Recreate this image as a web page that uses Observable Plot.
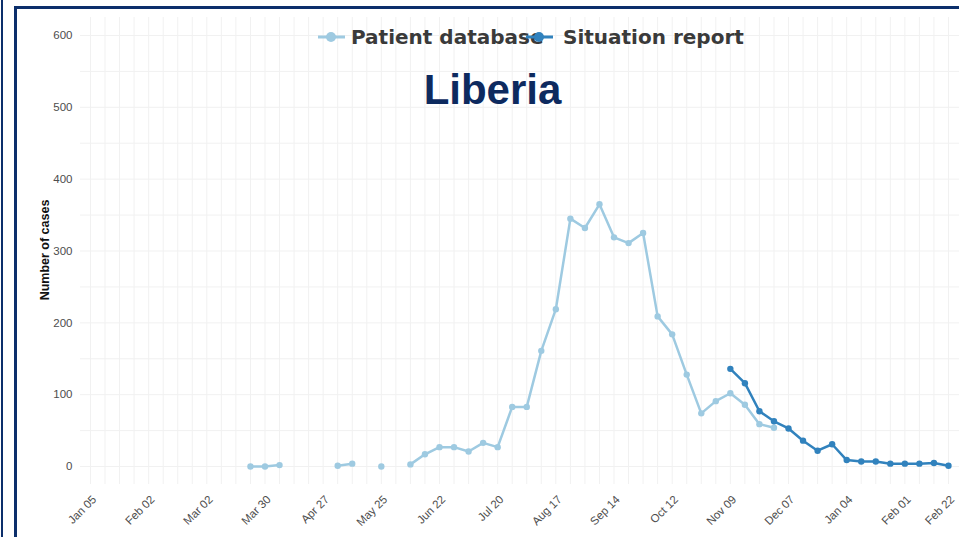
<!DOCTYPE html>
<html>
<head>
<meta charset="utf-8">
<script src="https://cdn.jsdelivr.net/npm/d3@7"></script>
<script src="https://cdn.jsdelivr.net/npm/@observablehq/plot@0.6"></script>
<style>
  html, body { margin: 0; padding: 0; background: #fff; }
  #wrap { position: relative; width: 959px; height: 537px; overflow: hidden; background: #fff; }
  #wrap svg { position: absolute; left: 0; top: 0; }
  .bl { position: absolute; background: #0c2f6b; }
  #title { position: absolute; left: 0; width: 985px; top: 66px; text-align: center;
           font: bold 42px "Liberation Sans", Arial, sans-serif; color: #0d2a5f; line-height: 48px; }
  #ylab { position: absolute; left: 45px; top: 250px; transform: translate(-50%, -50%) rotate(-90deg);
          font: bold 12.5px "Liberation Sans", Arial, sans-serif; color: #111; white-space: nowrap; }
  #legend { position: absolute; left: 316px; top: 22px; height: 30px; }
  .lg { position: absolute; top: 0; font: bold 20px "DejaVu Sans", sans-serif; color: #3a3a3a; white-space: nowrap; line-height: 30px; }
</style>
</head>
<body>
<div id="wrap"></div>
<script>
// Weekly dates (week start) and values
const patientWeeks = ["2014-03-23","2014-03-30","2014-04-06","2014-04-13","2014-04-20","2014-04-27","2014-05-04","2014-05-11","2014-05-18","2014-05-25","2014-06-01","2014-06-08","2014-06-15","2014-06-22","2014-06-29","2014-07-06","2014-07-13","2014-07-20","2014-07-27","2014-08-03","2014-08-10","2014-08-17","2014-08-24","2014-08-31","2014-09-07","2014-09-14","2014-09-21","2014-09-28","2014-10-05","2014-10-12","2014-10-19","2014-10-26","2014-11-02","2014-11-09","2014-11-16","2014-11-23","2014-11-30"];
const patientCases = [0,0,2,null,null,null,1,4,null,0,null,3,17,27,27,21,33,27,83,83,161,219,345,332,365,319,311,325,209,184,128,74,91,102,86,59,54];

const sitrepWeeks = ["2014-11-09","2014-11-16","2014-11-23","2014-11-30","2014-12-07","2014-12-14","2014-12-21","2014-12-28","2015-01-04","2015-01-11","2015-01-18","2015-01-25","2015-02-01","2015-02-08","2015-02-15","2015-02-22"];
const sitrepCases = [136,116,77,63,53,36,22,31,9,7,7,4,4,4,5,1];

const xTickLabels = ["2014-01-05","2014-02-02","2014-03-02","2014-03-30","2014-04-27","2014-05-25","2014-06-22","2014-07-20","2014-08-17","2014-09-14","2014-10-12","2014-11-09","2014-12-07","2015-01-04","2015-02-01","2015-02-22"];
const yTicks = [0,100,200,300,400,500,600];
const seriesNames = ["Patient database","Situation report"];
const seriesColors = ["#9ecae1","#3182bd"];

const parse = d3.utcParse("%Y-%m-%d");
const patient = patientWeeks.map((d,i) => ({date: parse(d), cases: patientCases[i]}));
const sitrep = sitrepWeeks.map((d,i) => ({date: parse(d), cases: sitrepCases[i]}));
const xTicks = xTickLabels.map(parse);

const DAY = 864e5;
const x0 = new Date(parse("2014-01-05").getTime() - 4.8*DAY);
const x1 = new Date(parse("2015-02-22").getTime() + 5.3*DAY);
const weekGrid = d3.utcWeek.range(parse("2014-01-05"), new Date(parse("2015-02-22").getTime() + DAY));

const chart = Plot.plot({
  width: 959, height: 537,
  marginLeft: 80, marginRight: 0, marginTop: 17, marginBottom: 53,
  style: {fontFamily: "'Liberation Sans', Arial, sans-serif", background: "transparent"},
  x: {type: "utc", domain: [x0, x1]},
  y: {domain: [-25, 625]},
  marks: [
    Plot.ruleX(weekGrid, {stroke: "#f1f1f1", strokeWidth: 1}),
    Plot.ruleY(d3.range(-0, 651, 50), {stroke: "#f1f1f1", strokeWidth: 1}),
    Plot.axisY({ticks: yTicks, tickSize: 0, tickPadding: 8, fontSize: 11.5, fill: "#4d4d4d", label: null}),
    Plot.axisX({ticks: xTicks, tickFormat: d3.utcFormat("%b %d"), tickRotate: -45, tickSize: 0, tickPadding: 6, fontSize: 11.5, fill: "#4d4d4d", label: null}),
    Plot.lineY(patient, {x: "date", y: "cases", stroke: seriesColors[0], strokeWidth: 2.5}),
    Plot.dot(patient.filter(d => d.cases != null), {x: "date", y: "cases", fill: seriesColors[0], r: 3.2}),
    Plot.lineY(sitrep, {x: "date", y: "cases", stroke: seriesColors[1], strokeWidth: 2.5}),
    Plot.dot(sitrep, {x: "date", y: "cases", fill: seriesColors[1], r: 3.2})
  ]
});

// shift rotated x tick labels to match reference placement
d3.select(chart).selectAll('g[aria-label="x-axis tick label"]').each(function() {
  const g = d3.select(this);
  const t = g.attr("transform") || "";
  g.attr("transform", "translate(4,7) " + t);
});

const wrap = document.getElementById("wrap");
wrap.appendChild(chart);

// Borders
[[1,0,2,537],[14,7,3,530],[14,6,945,3]].forEach(([l,t,w,h]) => {
  const d = document.createElement("div"); d.className = "bl";
  Object.assign(d.style, {left: l+"px", top: t+"px", width: w+"px", height: h+"px"});
  wrap.appendChild(d);
});

// Title
const title = document.createElement("div"); title.id = "title"; title.textContent = "Liberia"; wrap.appendChild(title);
// Y label
const ylab = document.createElement("div"); ylab.id = "ylab"; ylab.textContent = "Number of cases"; wrap.appendChild(ylab);

// Legend
const legend = document.createElement("div"); legend.id = "legend";
const items = [{sx: 0, tx: 35}, {sx: 208, tx: 247}];
seriesNames.forEach((name, i) => {
  const s = document.createElementNS("http://www.w3.org/2000/svg", "svg");
  s.setAttribute("width", 30); s.setAttribute("height", 30);
  s.style.position = "absolute"; s.style.left = items[i].sx + "px"; s.style.top = "0px";
  s.style.zIndex = i === 1 ? 2 : 1;
  s.innerHTML = `<line x1="2" x2="29" y1="15" y2="15" stroke="${seriesColors[i]}" stroke-width="3"/><circle cx="15" cy="15" r="5" fill="${seriesColors[i]}"/>`;
  const t = document.createElement("div"); t.className = "lg"; t.textContent = name;
  t.style.left = items[i].tx + "px";
  legend.appendChild(t);
  legend.appendChild(s);
});
wrap.appendChild(legend);
</script>
</body>
</html>
